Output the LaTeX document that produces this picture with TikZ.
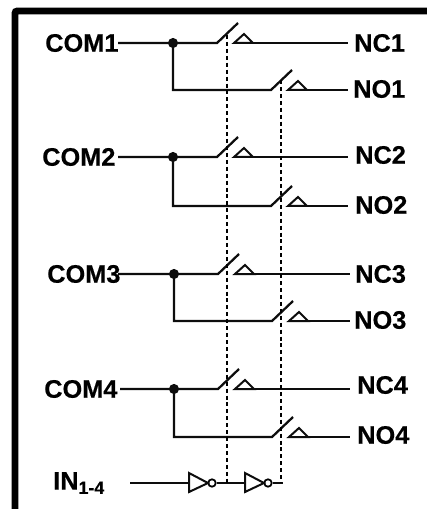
\documentclass[tikz,border=0pt]{standalone}
\usepackage{fontspec}
\setmainfont[BoldFeatures={FakeBold=0.4}]{Liberation Sans}
\begin{document}
\begin{tikzpicture}[x=0.75pt,y=-0.75pt,
  wire/.style={line width=1.7pt,black!95,line cap=butt},
  thin wire/.style={line width=1.5pt,black!95},
  link/.style={line width=1.5pt,black,dash pattern=on 3pt off 2.2pt},
  frameline/.style={line width=5pt,black,rounded corners=1.5pt},
  lab/.style={font=\fontsize{19}{21}\selectfont\bfseries,inner sep=0pt,anchor=west,text=black},
  junction/.style={circle,fill=black!95,draw=none,inner sep=0pt,minimum size=7.6pt},
  bubble/.style={circle,draw=black,line width=1.3pt,fill=white,inner sep=0pt,minimum size=5.6pt}]
\useasboundingbox (0,0) rectangle (427,509);
\draw[frameline] (15,509) -- (15,11) -- (427,11);
% row parameters: id, yNC, yNO, xJunction, shift, COM x, NC x, NO x, wire end, com wire start, NC label y, NO label y
\foreach \id/\ya/\yb/\xj/\sh/\xc/\xnc/\xno/\xend/\xst/\lnc/\lno in {%
  1/43/90/173/0/45/354/353/348/118/43/89,
  2/157/206/173/0/42/355/355/348/118/155/205,
  3/274/321/174/1/47/355/354/350/118/274/320,
  4/389/437/174/1/44/357/357/350/120/385/435}{
  \node[lab] (com\id) at (\xc,\ya) {COM\id};
  \node[lab] (nc\id) at (\xnc,\lnc) {NC\id};
  \node[lab] (no\id) at (\xno,\lno) {NO\id};
  \node[junction] (j\id) at (\xj,\ya) {};
  \coordinate (cs\id) at (\xst,\ya);
  \coordinate (a\id) at ({217+\sh},\ya);
  \coordinate (at\id) at ({238+\sh},{\ya-20});
  \coordinate (b\id) at ({271+\sh},\yb);
  \coordinate (bt\id) at ({292+\sh},{\yb-20});
  \coordinate (ncs\id) at ({253+\sh},\ya);
  \coordinate (nos\id) at ({307+\sh},\yb);
  \coordinate (nce\id) at (\xend,\ya);
  \coordinate (noe\id) at (\xend,\yb);
  \draw[wire] (cs\id) -- (a\id) -- (at\id);
  \draw[wire] (j\id.center) -- (\xj,\yb) -- (b\id) -- (bt\id);
  \draw[wire] (ncs\id) -- (nce\id);
  \draw[wire] (nos\id) -- (noe\id);
  \draw[thin wire,line join=miter] ({234+\sh},\ya) -- ({244+\sh},{\ya-9}) -- ({253+\sh},\ya) -- cycle;
  \draw[thin wire,line join=miter] ({288+\sh},\yb) -- ({298+\sh},{\yb-9}) -- ({307+\sh},\yb) -- cycle;
}
\node[lab] (in) at (53,483) {IN\textsubscript{1-4}};
\coordinate (ins) at (130,483);
\coordinate (t1) at (189,483);
\node[bubble] (b1) at (212,483) {};
\coordinate (t2) at (245,483);
\node[bubble] (b2) at (268,483) {};
\coordinate (ine) at (283,483);
\coordinate (d1) at (227,483);
\coordinate (d2) at (281,483);
\draw[wire] (ins) -- (t1);
\draw[thin wire,line join=miter] (t1) -- (189,473) -- (208,483) -- (189,492) -- cycle;
\draw[wire] (b1) -- (t2);
\draw[thin wire,line join=miter] (t2) -- (245,473) -- (264,483) -- (245,492) -- cycle;
\draw[wire] (b2) -- (ine);
\draw[link] (227,35) -- (d1);
\draw[link] (281,80) -- (d2);
\end{tikzpicture}
\end{document}
